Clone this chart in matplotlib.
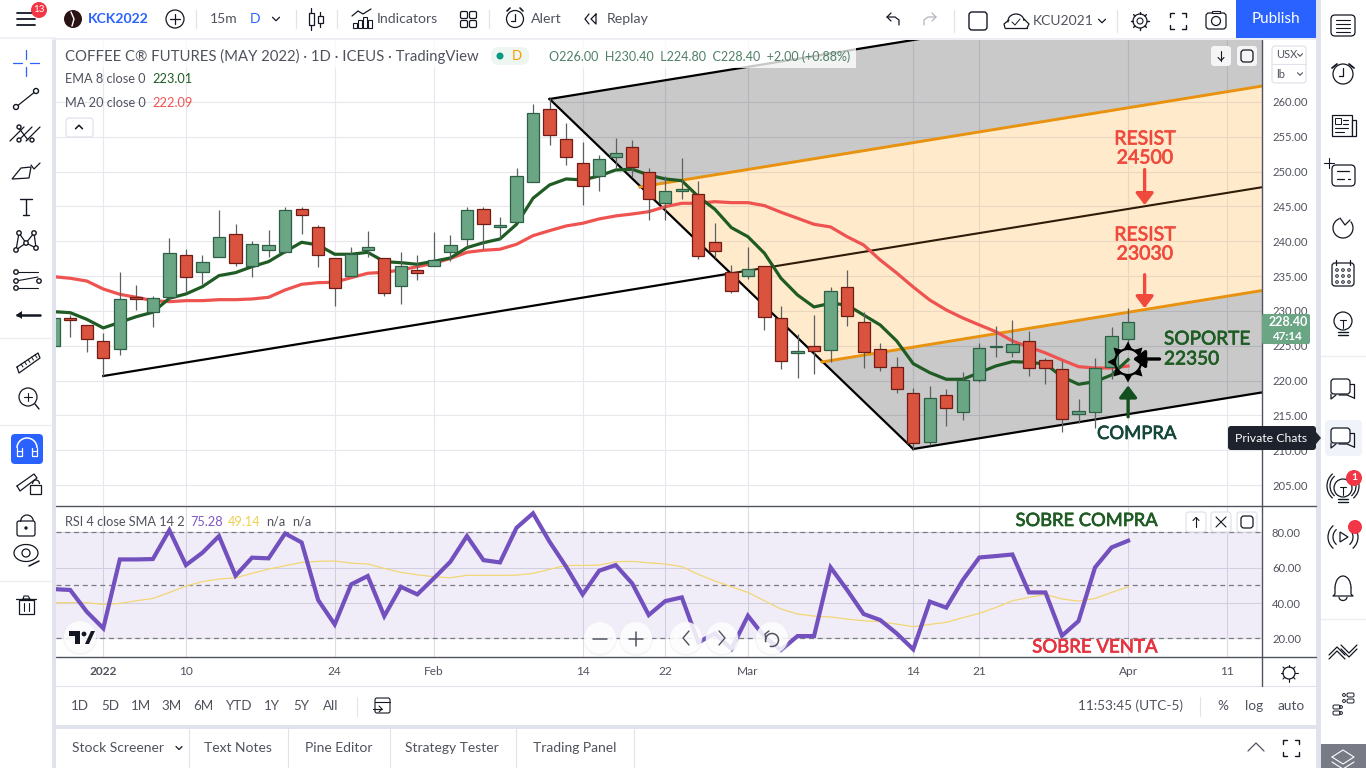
import numpy as np
import matplotlib
matplotlib.use('Agg')
import matplotlib.pyplot as plt
import matplotlib.patheffects as pe
from matplotlib.patches import Circle, FancyBboxPatch, Polygon, Rectangle, Arc

plt.rcParams['font.family'] = ['Lato', 'DejaVu Sans']

# daily bars, oldest first
opens = [224.97, 229.00, 227.99, 225.69, 224.54, 232.00, 229.85, 232.00, 238.04, 235.60, 237.75,
         241.05, 236.46, 238.75, 238.47, 244.64, 242.06, 237.61, 235.02, 238.75, 237.61, 233.59,
         235.88, 236.46, 238.47, 240.33, 244.64, 242.06, 242.77, 248.52, 258.99, 254.69, 251.25,
         249.38, 252.11, 253.54, 249.95, 245.50, 247.23, 246.80, 239.90, 235.60, 235.02, 236.46,
         228.99, 223.97, 224.97, 224.40, 233.44, 228.42, 224.54, 221.96, 218.22, 211.19, 217.94,
         215.49, 220.09, 224.83, 224.11, 225.69, 222.96, 221.67, 215.21, 215.49, 221.96, 226.00]
highs = [229.00, 229.40, 227.99, 226.84, 235.60, 233.73, 232.15, 240.48, 238.90, 238.04, 244.50,
         242.49, 240.05, 241.63, 244.93, 244.93, 242.34, 237.61, 239.19, 241.48, 237.61, 238.47,
         238.04, 241.34, 240.91, 244.93, 244.93, 243.49, 250.53, 259.72, 260.58, 256.99, 254.26,
         252.39, 254.84, 254.55, 250.53, 249.38, 251.96, 248.66, 242.63, 236.60, 239.19, 236.46,
         230.71, 226.69, 229.42, 233.44, 235.88, 229.85, 225.40, 223.39, 218.94, 219.23, 218.80,
         221.24, 225.40, 227.84, 228.70, 227.12, 223.25, 222.82, 217.36, 223.25, 227.70, 230.40]
lows = [224.97, 226.30, 224.11, 220.66, 223.68, 230.14, 227.70, 231.57, 232.72, 233.87, 237.75,
        236.46, 234.88, 237.75, 238.33, 241.05, 236.31, 230.71, 235.02, 237.75, 232.15, 231.00,
        234.45, 236.46, 237.18, 239.19, 238.90, 240.33, 242.77, 248.52, 253.83, 250.96, 245.22,
        247.23, 250.53, 249.24, 243.06, 243.06, 246.08, 237.46, 237.61, 232.58, 234.59, 227.27,
        221.67, 220.38, 220.95, 222.67, 227.84, 221.81, 221.38, 218.22, 210.04, 210.76, 213.48,
        214.35, 219.80, 223.39, 223.39, 220.66, 219.51, 212.62, 213.92, 213.20, 220.23, 224.80]
closes = [228.99, 228.70, 225.97, 223.25, 231.72, 231.70, 231.86, 238.33, 234.88, 237.03, 240.62,
          236.89, 239.62, 239.47, 244.50, 243.78, 238.04, 233.30, 238.18, 239.19, 232.58, 236.46,
          235.45, 237.32, 239.47, 244.50, 242.49, 242.34, 249.38, 258.43, 255.27, 252.11, 247.94,
          251.82, 252.68, 250.67, 246.08, 247.23, 247.51, 237.89, 238.61, 232.87, 236.03, 229.13,
          222.82, 224.25, 224.25, 232.87, 229.28, 224.11, 221.96, 218.80, 211.05, 217.51, 216.07,
          220.09, 224.68, 224.97, 225.26, 221.81, 221.81, 214.49, 215.64, 221.81, 226.41, 228.40]
ema8 = [229.90, 229.75, 228.80, 227.56, 228.37, 229.18, 229.81, 231.82, 232.44, 233.49, 235.07,
        235.50, 236.36, 237.08, 238.51, 239.86, 239.47, 238.14, 238.14, 238.42, 237.08, 236.93,
        236.70, 237.13, 237.61, 239.09, 239.80, 240.33, 242.44, 246.18, 248.09, 248.95, 248.81,
        249.38, 250.24, 250.34, 249.52, 248.95, 248.70, 246.41, 244.60, 241.96, 240.66, 238.28,
        234.69, 232.29, 230.57, 231.10, 230.86, 229.42, 227.99, 225.69, 222.43, 221.14, 220.19,
        220.19, 221.14, 222.10, 222.72, 222.63, 222.39, 220.56, 219.47, 219.85, 220.81, 223.01]
ma20 = [234.92, 234.69, 234.30, 233.15, 232.39, 231.96, 231.48, 231.33, 231.48, 231.48, 231.62,
        231.62, 231.72, 231.96, 233.01, 233.83, 234.06, 234.12, 234.78, 235.41, 235.55, 235.88,
        236.36, 236.85, 237.53, 238.42, 238.71, 238.86, 239.57, 240.81, 241.53, 242.20, 242.59,
        243.21, 243.64, 243.92, 244.25, 244.97, 245.46, 245.46, 245.69, 245.55, 245.55, 245.12,
        244.17, 243.31, 242.44, 242.06, 240.66, 239.47, 237.32, 235.45, 233.44, 231.57, 230.14,
        228.99, 227.99, 227.02, 225.69, 224.83, 223.97, 222.96, 222.00, 221.81, 221.81, 222.09]
rsi = [47.9, 47.4, 35.1, 25.7, 64.7, 64.7, 64.9, 81.3, 61.5, 68.5, 77.9, 55.5, 65.7, 65.3, 79.4,
       74.3, 41.7, 27.9, 50.6, 55.3, 32.6, 49.2, 44.9, 54.0, 63.4, 77.9, 64.3, 63.0, 82.6, 90.8,
       74.7, 60.6, 44.9, 58.3, 61.5, 51.1, 33.2, 41.1, 43.2, 17.7, 22.8, 14.0, 32.8, 20.9, 13.4,
       21.3, 21.3, 60.2, 47.4, 33.8, 30.4, 22.8, 13.8, 40.8, 37.4, 53.0, 65.8, 66.6, 67.5, 46.0,
       46.0, 21.5, 29.8, 60.2, 71.5, 75.28]
rsi_sma = [40.2, 40.2, 40.2, 39.2, 39.8, 41.3, 42.6, 46.0, 49.6, 52.1, 53.6, 54.3, 56.8, 59.2, 61.1,
           63.0, 63.6, 63.8, 62.6, 62.1, 59.6, 57.4, 56.0, 54.9, 54.3, 55.7, 55.7, 55.7, 55.8, 56.8,
           59.1, 61.3, 61.3, 61.5, 63.4, 63.6, 62.8, 62.1, 60.6, 56.2, 52.5, 49.2, 46.0, 41.3, 36.6,
           33.8, 32.6, 32.1, 30.9, 30.0, 29.4, 28.1, 26.6, 27.9, 29.1, 31.7, 34.2, 37.5, 41.3, 43.2,
           44.9, 42.3, 41.1, 42.6, 46.0, 49.14]

# date ticks, as bar numbers
tick_bars = [3, 8, 17, 23, 32, 37, 42, 52, 56, 65, 71]
tick_labels = ['2022', '10', '24', 'Feb', '14', '22', 'Mar', '14', '21', 'Apr', '11']
price_ticks = [205, 210, 215, 220, 225, 230, 235, 240, 245, 250, 255, 260]
rsi_ticks = [20, 40, 60, 80]

# pitchfork anchors (bar, price)
fork_apex = (30, 260.43)
fork_low = (52, 210.18)
fork_handle = (3, 220.66)
fork_cross = (40.73, 235.3)
fork_upper = (35.47, 247.8)
fork_lower = (46.48, 222.68)
fork_slope = 0.385
fork_end = 74

W, H = 1366, 768
INK = '#131722'
TXT = '#50535e'
BAND = '#e0e3eb'
GREEN = '#6aa584'
RED = '#d9533f'
GRID = '#e6e8ee'

fig = plt.figure(figsize=(W / 100, H / 100), dpi=100, facecolor='white')


def pane(left, right, top, bottom):
    return fig.add_axes([left / W, 1 - bottom / H, (right - left) / W, (bottom - top) / H])


def fork_at(anchor, x):
    return anchor[1] + fork_slope * (x - anchor[0])


ax = pane(56, 1262, 40, 505)
ax.set_xlim(0.14, 73.1)
ax.set_ylim(202.14, 268.9)
ax.set_axisbelow(True)
ax.grid(True, color=GRID, lw=0.8)
ax.set_xticks(tick_bars)
ax.set_yticks(price_ticks)
ax.set_yticklabels(['%.2f' % p for p in price_ticks], color=TXT, fontsize=8.1)
ax.yaxis.tick_right()
ax.tick_params(axis='both', length=0, labelbottom=False, pad=7.2)

# pitchfork fills and lines
top_end = fork_at(fork_apex, fork_end)
up_end = fork_at(fork_upper, fork_end)
lo_end = fork_at(fork_lower, fork_end)
bot_end = fork_at(fork_low, fork_end)
ax.add_patch(Polygon([fork_apex, (fork_end, top_end), (fork_end, up_end), fork_upper],
                     fc='black', alpha=0.21, ec='none', zorder=1))
ax.add_patch(Polygon([fork_upper, (fork_end, up_end), (fork_end, lo_end), fork_lower],
                     fc='#ff9800', alpha=0.2, ec='none', zorder=1))
ax.add_patch(Polygon([fork_lower, (fork_end, lo_end), (fork_end, bot_end), fork_low],
                     fc='black', alpha=0.21, ec='none', zorder=1))
ax.plot([fork_apex[0], fork_end], [fork_apex[1], top_end], color='black', lw=1.6, zorder=2)
ax.plot([fork_apex[0], fork_low[0]], [fork_apex[1], fork_low[1]], color='black', lw=1.6, zorder=2)
ax.plot([fork_low[0], fork_end], [fork_low[1], bot_end], color='black', lw=1.6, zorder=2)
ax.plot([fork_handle[0], fork_cross[0]], [fork_handle[1], fork_cross[1]], color='black', lw=1.6, zorder=2)
ax.plot([fork_cross[0], fork_end], [fork_cross[1], fork_at(fork_cross, fork_end)], color='#2e1c08', lw=1.5, zorder=2)
ax.plot([fork_upper[0], fork_end], [fork_upper[1], up_end], color='#e8920f', lw=2.1, zorder=2)
ax.plot([fork_lower[0], fork_end], [fork_lower[1], lo_end], color='#e8920f', lw=2.1, zorder=2)

# moving averages sit under the candles
bars = np.arange(len(closes))
ax.plot(bars, ma20, color='#ef5350', lw=2.3, zorder=2.5, solid_joinstyle='round')
ax.plot(bars, ema8, color='#1f5c24', lw=2.3, zorder=2.6, solid_joinstyle='round')

# candles
for i in bars:
    up = closes[i] >= opens[i]
    ax.vlines(i, lows[i], highs[i], color='#5c6060', lw=0.9, zorder=3)
    ax.bar(i, abs(closes[i] - opens[i]), bottom=min(opens[i], closes[i]), width=0.74,
           color=GREEN if up else RED, edgecolor='#2d5f45' if up else '#6f1d14', lw=0.9, zorder=3.1)


def arrow(a, b, color):
    ax.annotate('', xy=b, xytext=a, zorder=6,
                arrowprops=dict(arrowstyle='-|>,head_width=0.38,head_length=0.5', color=color, lw=2.4,
                                shrinkA=0, shrinkB=0, mutation_scale=14))


arrow((66, 250.3), (66, 245.2), '#ef4a3c')
arrow((66, 235.2), (66, 230.4), '#ef4a3c')
arrow((65, 214.8), (65, 219.3), '#14501f')
arrow((66.9, 223.1), (65.3, 223.1), 'black')

# rsi pane
rx = pane(56, 1262, 506, 657)
rx.set_xlim(0.14, 73.1)
rx.set_ylim(9.45, 94.95)
rx.set_axisbelow(True)
rx.grid(True, color='#dcdce6', lw=0.8)
rx.set_xticks(tick_bars)
rx.set_xticklabels(tick_labels, color=TXT, fontsize=8.6)
rx.get_xticklabels()[0].set_fontweight('bold')
rx.set_yticks(rsi_ticks)
rx.set_yticklabels(['%.2f' % v for v in rsi_ticks], color=TXT, fontsize=8.1)
rx.yaxis.tick_right()
rx.tick_params(axis='y', length=0, pad=7.2)
rx.tick_params(axis='x', length=0, pad=6.5)
rx.axhspan(20, 80, color='#7e57c2', alpha=0.1, lw=0, zorder=1)
for level in [20, 50, 80]:
    rx.axhline(level, color='#787b86', lw=0.9, dashes=(4, 3), zorder=1.5)
rx.plot(bars, rsi_sma, color='#f2d675', lw=0.9, zorder=2)
rx.plot(bars, rsi, color='#7250bd', lw=3, zorder=3, solid_joinstyle='miter')

for a in (ax, rx):
    for s in a.spines.values():
        s.set_visible(False)

# everything around the chart is drawn in pixels on one overlay
ui = fig.add_axes([0, 0, 1, 1], zorder=10)
ui.set_xlim(0, W)
ui.set_ylim(H, 0)
ui.axis('off')
ui.patch.set_alpha(0)


def line(xs, ys, color=INK, lw=1.0, **kw):
    ui.plot(xs, ys, color=color, lw=lw, solid_capstyle=kw.pop('cap', 'round'), **kw)


def rect(x0, y0, x1, y1, fc, ec='none', lw=0.0, z=1, alpha=None):
    ui.add_patch(Rectangle((x0, y0), x1 - x0, y1 - y0, fc=fc, ec=ec, lw=lw, zorder=z, alpha=alpha))


def rbox(x0, y0, x1, y1, r=3, fc='white', ec=INK, lw=1.0, z=2, alpha=None):
    ui.add_patch(FancyBboxPatch((x0 + r, y0 + r), x1 - x0 - 2 * r, y1 - y0 - 2 * r,
                                boxstyle='round,pad=%s,rounding_size=%s' % (r, r),
                                fc=fc, ec=ec, lw=lw, zorder=z, alpha=alpha))


def circ(x, y, r, fc='none', ec=INK, lw=1.0, z=3, alpha=None):
    ui.add_patch(Circle((x, y), r, fc=fc, ec=ec, lw=lw, zorder=z, alpha=alpha))


def txt(x, y, s, color=INK, size=10, ha='left', weight='normal', z=5, **kw):
    return ui.text(x, y, s, color=color, fontsize=size, ha=ha, va='center', fontweight=weight, zorder=z, **kw)


def label(x, y, s, color, size, ha='center'):
    # the hand written labels look a little heavier than Lato regular
    t = txt(x, y, s, color, size, ha=ha)
    t.set_path_effects([pe.withStroke(linewidth=0.5, foreground=color)])


def chevron(x, y, d=3.5, color=INK, lw=0.9, up=False):
    s = -1 if up else 1
    line([x - d, x, x + d], [y - s * d / 2, y + s * d / 2, y - s * d / 2], color, lw, zorder=5)


def fullscreen(x, y, d=8, color=INK):
    for sx in (-1, 1):
        for sy in (-1, 1):
            line([x + sx * d, x + sx * d, x + sx * (d - 4)],
                 [y + sy * (d - 4), y + sy * d, y + sy * d], color, 1.0, zorder=5)


# frames and separators
rect(0, 0, 52, H, 'white')
rect(52, 38, 56, H, BAND)
rect(56, 0, 1316, 38, 'white')
rect(0, 37, 56, 39, '#f0f1f5', z=1.5)
rect(52, 38, 1316, 40, '#eceef3', z=1.5)
rect(1316, 0, 1321, H, BAND)
rect(1321, 0, W, H, 'white')
line([56, 1316], [686, 686], BAND, 0.8)
rect(56, 725, 1316, 729, BAND)
line([1262, 1262], [40, 686], '#50535e', 1.0)
line([56, 1316], [505.5, 505.5], '#50535e', 1.0)
line([56, 1316], [657, 657], '#50535e', 1.0)

# top toolbar
for y in (13, 19, 25):
    line([17, 35], [y, y], INK, 1.3)
circ(39, 10, 8, fc='#f23645', ec='none', z=6)
txt(39, 10, '13', 'white', 7, ha='center', z=7)
circ(73, 19, 9, fc='#2a1215', ec='none')
line([71, 74, 72], [12, 19, 26], 'white', 1.0, zorder=4)
txt(88, 19, 'KCK2022', '#2962ff', 10.1, weight='bold')
circ(175, 19, 9, lw=0.9)
line([170, 180], [19, 19], INK, 0.9, zorder=4)
line([175, 175], [14, 24], INK, 0.9, zorder=4)
for x in (196, 296, 337, 489):
    line([x, x], [10, 28], BAND, 0.9)
txt(210, 19, '15m', TXT, 10)
txt(255, 19, 'D', '#2962ff', 10, ha='center')
chevron(276, 19)
# candle icon
line([311, 311], [8, 30], INK, 0.9)
rect(308.5, 13, 313.5, 25, 'white', INK, 0.9, z=3)
line([320, 320], [12, 27], INK, 0.9)
rect(317.5, 16, 322.5, 23, 'white', INK, 0.9, z=3)
# indicators icon
for x, top in ((355, 23), (360, 20), (365, 17), (370, 20)):
    rect(x - 2, top, x + 1.5, 28, 'white', INK, 0.8, z=3)
line([352, 358, 363, 371], [16, 11, 14, 9], INK, 0.9)
txt(377, 19, 'Indicators', TXT, 10.2)
for x in (464, 473):
    for y in (15, 24):
        rbox(x - 3.5, y - 3.5, x + 3.5, y + 3.5, r=1.5, lw=0.9)
# alert icon
circ(515, 19, 8.5, lw=0.9)
line([515, 515, 511], [14, 21, 21], INK, 0.9, zorder=4)
line([507, 510], [11, 8], INK, 1.2)
line([520, 523], [8, 11], INK, 1.2)
txt(531, 19, 'Alert', TXT, 10.2)
line([589, 585, 589], [14, 19, 24], INK, 0.9)
line([596, 591, 596, 596], [14, 19, 24, 14], INK, 0.9)
txt(607, 19, 'Replay', TXT, 10.2)
# undo / redo
line([899, 899, 895, 887], [25, 20, 17, 17], INK, 0.9)
line([891, 887, 891], [13, 17, 21], INK, 0.9)
line([924, 924, 928, 936], [25, 20, 17, 17], '#b2b5be', 0.9)
line([932, 936, 932], [13, 17, 21], '#b2b5be', 0.9)
for x in (954, 1117):
    line([x, x], [10, 32], BAND, 0.9)
rbox(969, 12, 987, 30, r=3, lw=1.0)
# cloud
ui.add_patch(Arc((1016, 21), 16, 14, theta1=170, theta2=360, ec=INK, lw=0.9, zorder=4))
line([1005, 1027], [28, 28], INK, 0.9)
line([1005, 1004, 1009], [28, 24, 20], INK, 0.9)
line([1027, 1029, 1024], [28, 24, 19], INK, 0.9)
line([1012, 1015, 1020], [22, 25, 19], INK, 0.7)
txt(1033, 21, 'KCU2021', TXT, 10)
chevron(1102, 21)
# gear, fullscreen, camera
circ(1140, 21, 7, lw=0.9)
circ(1140, 21, 3, lw=0.8)
for k in range(8):
    a = k * np.pi / 4
    line([1140 + 7 * np.cos(a), 1140 + 9 * np.cos(a)], [21 + 7 * np.sin(a), 21 + 9 * np.sin(a)], INK, 1.0)
fullscreen(1178, 21)
rbox(1206, 13, 1226, 29, r=3, lw=0.9)
circ(1216, 21, 4.5, lw=0.9)
rect(1212, 10.5, 1220, 13, 'white', INK, 0.8, z=3)
rect(1236, 0, 1316, 38, '#2962ff', z=4)
txt(1276, 19, 'Publish', 'white', 11, ha='center', z=6)

# left toolbar
C = 26
line([C - 13, C - 4], [63, 63], '#2962ff', 0.9)
line([C + 4, C + 13], [63, 63], '#2962ff', 0.9)
line([C, C], [50, 59], '#2962ff', 0.9)
line([C, C], [67, 76], '#2962ff', 0.9)
line([C - 10, C + 10], [107, 91], INK, 0.9)
circ(C - 10, 107, 2.5, fc='white')
circ(C + 10, 91, 2.5, fc='white')
for dx in (-8, 0, 8):
    line([C + dx - 8, C + dx + 6], [141, 127], INK, 0.9)
line([C - 8, C + 2], [127, 140], INK, 0.9)
circ(C - 7, 140, 2, fc='white')
circ(C + 6, 140, 2, fc='white')
circ(C - 7, 127, 2, fc='white')
ui.add_patch(Polygon([(C - 14, 179), (C - 5, 168), (C + 5, 167), (C + 3, 178)], fc='white', ec=INK, lw=0.9, zorder=3))
line([C + 5, C + 8, C + 14], [165, 169, 163], INK, 0.9)
line([C - 6, C + 6], [199, 199], INK, 1.0)
line([C, C], [199, 215], INK, 1.0)
line([C - 3, C + 3], [215, 215], INK, 1.0)
nx = [C - 10, C - 7, C, C + 8, C + 10]
ny = [250, 233, 243, 233, 248]
line(nx, ny, INK, 0.9)
line([C - 10, C, C + 10], [250, 243, 248], INK, 0.9)
for a, b in zip(nx, ny):
    circ(a, b, 2.2, fc='white')
for y in (272, 281, 288):
    line([C - 10, C + 12], [y, y] if y != 281 else [y, y - 4], INK, 0.8)
    circ(C - 10, y, 2.2, fc='white')
circ(C + 13, 281, 2.2, fc='white')
line([C - 9, C + 14], [315, 315], INK, 1.8)
ui.add_patch(Polygon([(C - 10, 315), (C - 4, 311), (C - 4, 319)], fc=INK, ec='none', zorder=3))
line([C - 9, C + 12, C + 14, C - 7, C - 9], [367, 353, 358, 373, 367], INK, 0.9)
for k in range(5):
    line([C - 5 + k * 3.5, C - 3 + k * 3.5], [364 - k * 2.3, 367 - k * 2.3], INK, 0.7)
line([0, 52], [338, 338], '#ebedf2', 0.9)
circ(C + 2, 397, 9, lw=0.9)
line([C + 9, C + 13], [404, 409], INK, 1.0)
line([C - 2, C + 6], [397, 397], INK, 0.8, zorder=4)
line([C + 2, C + 2], [393, 401], INK, 0.8, zorder=4)
line([0, 52], [425, 425], '#ebedf2', 0.9)
rbox(C - 15, 434, C + 17, 464, r=4, fc='#2962ff', ec='none', z=3)
ui.add_patch(Arc((C + 1, 448), 20, 20, theta1=180, theta2=360, ec='white', lw=1.1, zorder=4))
line([C - 9, C - 9, C - 4, C - 4], [448, 456, 456, 448], 'white', 0.9, zorder=4)
line([C + 6, C + 6, C + 11, C + 11], [448, 456, 456, 448], 'white', 0.9, zorder=4)
line([C - 9, C - 4], [451, 451], 'white', 0.8, zorder=4)
line([C + 6, C + 11], [451, 451], 'white', 0.8, zorder=4)
line([C - 9, C + 8, C + 11, C - 6, C - 9], [486, 474, 478, 491, 486], INK, 0.9)
rect(C + 4, 485, C + 15, 494, 'white', INK, 0.9, z=3)
ui.add_patch(Arc((C + 10, 484), 7, 8, theta1=180, theta2=360, ec=INK, lw=0.9, zorder=3))
rbox(C - 9, 521, C + 9, 536, r=2, lw=0.9)
ui.add_patch(Arc((C + 1, 522), 13, 14, theta1=180, theta2=350, ec=INK, lw=0.9, zorder=3))
circ(C, 528, 1, fc=INK)
ui.add_patch(Arc((C, 553), 24, 17, theta1=0, theta2=360, ec=INK, lw=0.9, zorder=3))
circ(C, 553, 4, lw=0.9)
line([C + 3, C + 13], [566, 561], INK, 1.1)
line([0, 52], [581, 581], '#ebedf2', 0.9)
rect(C - 7, 600, C + 8, 614, 'white', INK, 0.9, z=3)
line([C - 10, C + 10], [599, 599], INK, 0.9)
line([C - 3, C + 4, C + 2, C - 2, C - 3], [599, 599, 596, 596, 599], INK, 0.8)
line([C - 2, C - 2], [603, 611], INK, 0.8, zorder=4)
line([C + 3, C + 3], [603, 611], INK, 0.8, zorder=4)

# right sidebar
R = 1343
rbox(R - 12, 15, R + 12, 36, r=4, lw=0.9)
for y in (20, 24, 28, 32):
    line([R - 7, R + 7], [y, y], INK, 0.8, zorder=4)
circ(R, 74, 10, lw=0.9)
line([R, R, R - 4], [68, 76, 76], INK, 0.9, zorder=4)
line([R - 11, R - 6], [68, 64], INK, 1.3)
line([R + 6, R + 11], [64, 68], INK, 1.3)
rect(R - 11, 115, R + 9, 136, 'white', INK, 0.9, z=3)
rect(R + 9, 120, R + 13, 136, 'white', INK, 0.9, z=3)
rect(R - 8, 118, R - 2, 124, 'white', INK, 0.7, z=4)
for y, x in ((120, 5), (124, 5), (128, 5), (132, 1)):
    line([R - 8 if y > 125 else R, R + x], [y, y], INK, 0.8, zorder=4)
rbox(R - 11, 165, R + 12, 186, r=4, lw=0.9)
line([R - 6, R + 6], [171, 171], INK, 0.9, zorder=4)
line([R - 6, R + 1], [179, 179], INK, 0.9, zorder=4)
line([R + 5, R + 7], [179, 179], INK, 0.9, zorder=4)
line([R - 19, R - 9], [163, 163], INK, 0.8)
line([R - 14, R - 14], [158, 168], INK, 0.8)
ui.add_patch(Arc((R, 228), 20, 20, theta1=-40, theta2=250, ec=INK, lw=0.9, zorder=3))
line([R - 3, R + 2, R + 7], [218, 225, 220], INK, 0.9)
rbox(R - 11, 263, R + 11, 286, r=3, lw=0.9)
line([R - 7, R - 7], [260, 265], INK, 0.9, zorder=4)
line([R + 7, R + 7], [260, 265], INK, 0.9, zorder=4)
for yy in (270, 276, 282):
    for dx in (-6, 0, 6):
        circ(R + dx, yy, 1.3, lw=0.7, z=4)


def bulb(x, y):
    circ(x, y, 9, lw=0.9)
    line([x - 3, x + 3], [y - 1, y - 1], INK, 0.8, zorder=4)
    line([x, x], [y - 1, y + 7], INK, 0.8, zorder=4)
    for d in (11, 14):
        line([x - 5, x + 5], [y + d, y + d], INK, 1.0, zorder=4)


bulb(R, 321)
line([1321, W], [356, 356], '#ebedf2', 0.9)


def chat(x, y):
    rbox(x - 12, y - 10, x + 7, y + 5, r=3, fc='white', lw=0.9, z=4)
    line([x + 7, x + 11, x + 11], [y - 5, y - 5, y + 9], INK, 0.9, zorder=4)
    line([x + 11, x + 4, x - 4], [y + 9, y + 6, y + 6], INK, 0.9, zorder=4)
    line([x - 12, x - 12, x - 7], [y + 5, y + 10, y + 6], INK, 0.9, zorder=5)


chat(R, 389)
rbox(R - 18, 420, R + 19, 456, r=4, fc='#f0f3fa', ec='none', z=1.5)
chat(R, 438)
bulb(R, 488)
for d in (13, 16):
    ui.add_patch(Arc((R, 486), 2 * d, 2 * d, theta1=130, theta2=230, ec=INK, lw=0.9, zorder=3))
    ui.add_patch(Arc((R, 486), 2 * d, 2 * d, theta1=-50, theta2=50, ec=INK, lw=0.9, zorder=3))
circ(1354, 478, 8, fc='#f23645', ec='none', z=6)
txt(1354, 478, '1', 'white', 7.5, ha='center', weight='bold', z=7)
ui.add_patch(Polygon([(R - 3, 532), (R - 3, 542), (R + 5, 537)], fc='white', ec=INK, lw=0.9, zorder=3))
for d in (10, 15):
    ui.add_patch(Arc((R, 537), 2 * d, 2 * d, theta1=130, theta2=230, ec=INK, lw=0.9, zorder=3))
    ui.add_patch(Arc((R, 537), 2 * d, 2 * d, theta1=-50, theta2=50, ec=INK, lw=0.9, zorder=3))
circ(1355, 527, 7, fc='#f23645', ec='none', z=6)
ui.add_patch(Arc((R, 588), 16, 24, theta1=180, theta2=360, ec=INK, lw=0.9, zorder=3))
line([R - 8, R - 8, R - 10, R + 10, R + 8, R + 8], [588, 594, 596, 596, 594, 588], INK, 0.9)
ui.add_patch(Arc((R, 597), 8, 7, theta1=0, theta2=180, ec=INK, lw=0.9, zorder=3))
line([1321, W], [619, 619], '#ebedf2', 0.9)
line([R - 14, R - 6, R + 2], [655, 647, 655], INK, 0.9)
line([R - 14, R - 6, R + 2], [659, 651, 659], INK, 0.9)
line([R - 2, R + 6, R + 14], [645, 653, 645], INK, 0.9)
line([R - 2, R + 6, R + 14], [649, 657, 649], INK, 0.9)
for yy, xs, dot in ((695, R + 4, R + 1), (701, R + 4, R + 1), (707, R - 10, R - 2), (713, R - 10, R - 2)):
    rbox(xs, yy - 2, xs + 7, yy + 2, r=1.5, lw=0.7)
    circ(dot, yy, 1.4, lw=0.7)
rect(1321, 744, 1366, 768, '#787b86', z=2)
line([R - 11, R, R + 11, R, R - 11], [757, 750, 757, 764, 757], 'white', 0.8, zorder=3)
line([R - 11, R, R + 11], [762, 769, 762], 'white', 0.8, zorder=3)

# chart header
rect(56, 40, 856, 68, 'white', z=1.5, alpha=0.78)
txt(65, 56, 'COFFEE C® FUTURES (MAY 2022) · 1D · ICEUS · TradingView', TXT, 10.75)
rbox(491, 47, 529, 65, r=8, fc='#eef6f2', ec='none')
circ(500, 56, 3.5, fc='#089981', ec='none')
txt(517, 56, 'D', '#ff9800', 9.5, ha='center')
txt(549, 57, 'O226.00  H230.40  L224.80  C228.40  +2.00 (+0.88%)', '#4f7f66', 9)
txt(65, 79, 'EMA 8 close 0', TXT, 9.2)
txt(152, 79, '223.01', '#1f5c24', 9.2)
txt(65, 103, 'MA 20 close 0', TXT, 9.2)
txt(152, 103, '222.09', '#ef5350', 9.2)
rbox(66, 118, 93, 137, r=3, fc='white', ec=BAND, lw=0.9)
chevron(79, 127, 3.5, INK, 1.1, up=True)
for x in (1221, 1247):
    rbox(x - 10, 46, x + 10, 66, r=3, fc='#f5f5f5', ec='none', z=3)
line([1221, 1221], [51, 61], INK, 0.8, zorder=4)
chevron(1221, 59, 3, INK, 0.8)
rbox(1241, 50, 1253, 62, r=3, fc='none', lw=0.9, z=4)
rbox(1272, 46, 1306, 83, r=3, fc='white', ec=BAND, lw=0.9)
line([1272, 1306], [64, 64], BAND, 0.8, zorder=3)
txt(1276, 55, 'USX', TXT, 8)
txt(1276, 74, 'lb', TXT, 8)
chevron(1300, 55, 2.5, TXT, 0.8)
chevron(1300, 74, 2.5, TXT, 0.8)

# last price tag
rbox(1262, 314, 1310, 344, r=2, fc=GREEN, ec='none', z=6)
txt(1288, 322, '228.40', 'white', 9, ha='center', weight='bold', z=7)
txt(1288, 336, '47:14', 'white', 8.4, ha='center', weight='bold', z=7)

# hand drawn labels on the chart
label(1145, 139, 'RESIST', '#ef4a3c', 14)
label(1145, 158, '24500', '#ef4a3c', 14)
label(1145, 235, 'RESIST', '#ef4a3c', 14)
label(1145, 254, '23030', '#ef4a3c', 14)
label(1164, 339, 'SOPORTE', '#1f5c24', 13.7, ha='left')
label(1164, 359, '22350', '#1f5c24', 13.7, ha='left')
label(1137, 434, 'COMPRA', '#14463a', 13.3)
label(1086.5, 521, 'SOBRE COMPRA', '#1f5c24', 13.2)
label(1095, 647, 'SOBRE VENTA', '#e5333f', 13.4)

# the star on the support level
SX, SY = 1128, 362
circ(SX, SY, 13, lw=1.6, ec='black', z=7)
for k in range(8):
    a = k * np.pi / 4 + np.pi / 2
    tip = (SX + 20.5 * np.cos(a), SY + 20.5 * np.sin(a))
    b1 = (SX + 13 * np.cos(a - 0.36), SY + 13 * np.sin(a - 0.36))
    b2 = (SX + 13 * np.cos(a + 0.36), SY + 13 * np.sin(a + 0.36))
    ui.add_patch(Polygon([tip, b1, b2], fc='black', ec='none', zorder=7))

# rsi legend and pane controls
txt(65, 522, 'RSI 4 close SMA 14 2', TXT, 9.2)
txt(190, 522, '75.28', '#7e57c2', 9.2)
txt(228, 522, '49.14', '#f0d050', 9.2)
txt(266, 522, 'n/a', TXT, 9.2)
txt(292, 522, 'n/a', TXT, 9.2)
for x in (1196, 1221, 1247):
    rbox(x - 10, 512, x + 10, 532, r=3, fc='white', ec=BAND, lw=0.9)
line([1196, 1196], [517, 527], INK, 0.8, zorder=4)
chevron(1196, 519, 3, INK, 0.8, up=True)
line([1216, 1226], [517, 527], INK, 0.8, zorder=4)
line([1216, 1226], [527, 517], INK, 0.8, zorder=4)
rbox(1241, 516, 1253, 528, r=3, fc='none', lw=0.9, z=4)
circ(1289, 673, 6, lw=0.9)
for k in range(8):
    a = k * np.pi / 4
    line([1289 + 6 * np.cos(a), 1289 + 8.5 * np.cos(a)], [673 + 6 * np.sin(a), 673 + 8.5 * np.sin(a)], INK, 0.8)

# floating chart buttons
for x, y in ((80, 637), (600, 638), (636, 638), (686, 638), (722, 638), (772, 638)):
    circ(x, y + 1, 17, fc='#d8dbe2', ec='none', z=2.8, alpha=0.25)
    circ(x, y, 16, fc='white', ec='none', z=3, alpha=0.82)
line([593, 607], [639, 639], TXT, 1.1, zorder=4)
line([629, 643], [639, 639], TXT, 1.1, zorder=4)
line([636, 636], [632, 646], TXT, 1.1, zorder=4)
line([689, 683, 689], [631, 638, 645], TXT, 1.0, zorder=4)
line([719, 725, 719], [631, 638, 645], TXT, 1.0, zorder=4)
ui.add_patch(Arc((772, 640), 13, 13, theta1=-200, theta2=110, ec=TXT, lw=1.1, zorder=4))
line([769, 765, 766], [631, 634, 639], TXT, 1.0, zorder=4)
ui.add_patch(Polygon([(69, 631), (80, 631), (80, 644), (75, 644), (75, 636), (69, 636)], fc=INK, ec='none', zorder=4))
circ(84, 634, 2.4, fc=INK, ec='none', z=4)
ui.add_patch(Polygon([(85, 644), (91, 631), (95, 631), (89, 644)], fc=INK, ec='none', zorder=4))

# range bar
range_labels = ['1D', '5D', '1M', '3M', '6M', 'YTD', '1Y', '5Y', 'All']
range_x = [80, 110, 141, 172, 203, 238, 272, 301, 331]
for x, s in zip(range_x, range_labels):
    txt(x, 706, s, TXT, 9.6, ha='center')
line([357, 357], [697, 716], BAND, 0.8)
rbox(375, 698, 390, 713, r=2, fc='white', lw=0.8)
line([373, 382], [709, 709], INK, 0.8, zorder=4)
line([379, 382, 379], [706, 709, 712], INK, 0.8, zorder=4)
line([375, 390], [702, 702], INK, 0.8, zorder=4)
txt(1183, 706, '11:53:45 (UTC-5)', TXT, 9.8, ha='right')
line([1200, 1200], [697, 716], BAND, 0.8)
txt(1223, 706, '%', TXT, 9.8, ha='center')
txt(1254, 706, 'log', TXT, 9.8, ha='center')
txt(1291, 706, 'auto', TXT, 9.8, ha='center')

# bottom tabs
tab_labels = ['Text Notes', 'Pine Editor', 'Strategy Tester', 'Trading Panel']
tab_x = [238, 339, 452, 575]
txt(72, 748, 'Stock Screener', TXT, 10)
chevron(179, 748, 3)
for x, s in zip(tab_x, tab_labels):
    txt(x, 748, s, TXT, 10, ha='center')
for x in (189, 288, 390, 516, 634):
    line([x, x], [729, 768], BAND, 0.8)
chevron(1256, 747, 8, TXT, 0.9, up=True)
fullscreen(1291, 748)

# tooltip
rbox(1228, 426, 1316, 450, r=3, fc='#1e222d', ec='none', z=8)
ui.add_patch(Polygon([(1316, 432), (1321, 438), (1316, 444)], fc='#1e222d', ec='none', zorder=8))
txt(1271, 438, 'Private Chats', 'white', 8.8, ha='center', z=9)

fig.savefig('out.png', dpi=100)
